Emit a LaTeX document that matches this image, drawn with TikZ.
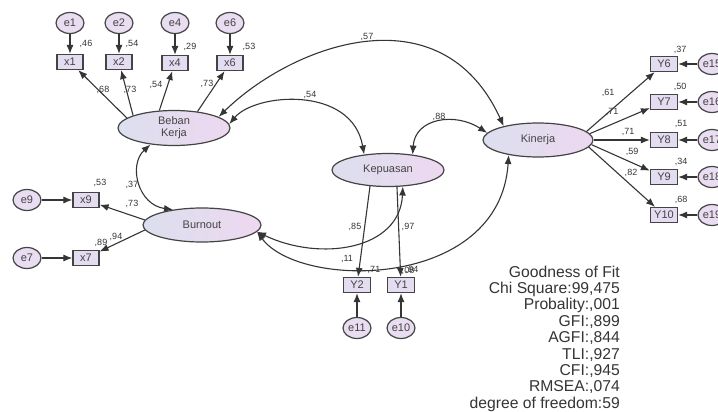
\documentclass[tikz,border=0pt]{standalone}
\usepackage{fontspec}
\setmainfont{Liberation Sans}
\usetikzlibrary{shapes.geometric,arrows.meta}
\definecolor{ink}{HTML}{353535}
\definecolor{edge}{HTML}{444444}
\definecolor{latL}{HTML}{DCDFEE}
\definecolor{latR}{HTML}{EDD8F0}
\definecolor{boxf}{HTML}{E4DCF0}
\definecolor{errf}{HTML}{E9DDF1}
\definecolor{txt}{HTML}{444444}
\begin{document}
\begin{tikzpicture}[x=1pt,y=-1pt,
 lat/.style={ellipse, draw=edge, line width=1.2pt, left color=latL, right color=latR, inner sep=0pt, font=\fontsize{11}{12}\selectfont, text=txt, align=center},
 obs/.style={rectangle, draw=edge, line width=1.2pt, fill=boxf, minimum width=26pt, minimum height=15pt, inner sep=0pt, font=\fontsize{11}{12}\selectfont, text=txt},
 err/.style={ellipse, draw=edge, line width=1.2pt, fill=errf, minimum width=28pt, minimum height=21pt, inner sep=0pt, font=\fontsize{11}{12}\selectfont, text=txt},
 arr/.style={draw=ink, line width=1.1pt, -{Latex[length=9pt,width=7pt]}},
 cov/.style={draw=ink, line width=1.1pt, {Latex[length=9pt,width=7pt]}-{Latex[length=9pt,width=7pt]}},
 lbl/.style={font=\fontsize{9}{9}\selectfont, text=ink, inner sep=0pt},
 gof/.style={font=\fontsize{15.7}{16}\selectfont, text=ink, anchor=base east, inner sep=0pt}]
\useasboundingbox (0,0) rectangle (718,412);
\fill[white] (0,0) rectangle (718,412);
\clip (0,0) rectangle (718,412);

% latent variables
\node[lat, minimum width=112pt, minimum height=35pt] (bk) at (174,128) {Beban\\Kerja};
\node[lat, minimum width=118pt, minimum height=34pt] (bo) at (202,225) {Burnout};
\node[lat, minimum width=112pt, minimum height=33pt] (kp) at (388,170) {Kepuasan};
\node[lat, minimum width=110pt, minimum height=34pt] (kn) at (538,140) {Kinerja};

% Beban Kerja indicators
\node[obs] (x1) at (70,62) {x1};
\node[obs] (x2) at (119,62) {x2};
\node[obs] (x4) at (175,63) {x4};
\node[obs] (x6) at (230,63) {x6};
\node[err] (e1) at (70,23) {e1};
\node[err] (e2) at (119,23) {e2};
\node[err] (e4) at (175,23) {e4};
\node[err] (e6) at (230,23) {e6};

% Burnout indicators
\node[obs] (x9) at (86,200) {x9};
\node[obs] (x7) at (86,258) {x7};
\node[err] (e9) at (27,200) {e9};
\node[err] (e7) at (27,258) {e7};

% Kepuasan indicators
\node[obs, minimum width=27pt] (y2) at (357,285) {Y2};
\node[obs, minimum width=27pt] (y1) at (401,285) {Y1};
\node[err] (e11) at (357,328) {e11};
\node[err] (e10) at (401,328) {e10};

% Kinerja indicators
\node[obs, minimum width=27pt] (y6) at (664,64) {Y6};
\node[obs, minimum width=27pt] (y7) at (664,102) {Y7};
\node[obs, minimum width=27pt] (y8) at (664,140) {Y8};
\node[obs, minimum width=27pt] (y9) at (664,177) {Y9};
\node[obs, minimum width=27pt] (y10) at (664,215) {Y10};
\node[err] (e15) at (712,64) {e15};
\node[err] (e16) at (712,102) {e16};
\node[err] (e17) at (712,140) {e17};
\node[err] (e18) at (712,177) {e18};
\node[err] (e19) at (712,215) {e19};

% error arrows
\draw[arr] (e1) -- (x1);
\draw[arr] (e2) -- (x2);
\draw[arr] (e4) -- (x4);
\draw[arr] (e6) -- (x6);
\draw[arr] (e9) -- (x9);
\draw[arr] (e7) -- (x7);
\draw[arr] (e11) -- (y2);
\draw[arr] (e10) -- (y1);
\draw[arr] (e15) -- (y6);
\draw[arr] (e16) -- (y7);
\draw[arr] (e17) -- (y8);
\draw[arr] (e18) -- (y9);
\draw[arr] (e19) -- (y10);

% loadings
\draw[arr] (bk.168) -- (x1);
\draw[arr] (bk.163) -- (x2);
\draw[arr] (bk.130) -- (x4);
\draw[arr] (bk.35) -- (x6);
\draw[arr] (bo.175) -- (x9);
\draw[arr] (bo.185) -- (x7);
\draw[arr] (kp.222) -- (y2);
\draw[arr] (kp.298) -- (y1);
\draw[arr] (kn.10) -- (y6);
\draw[arr] (kn.7) -- (y7);
\draw[arr] (kn.0) -- (y8);
\draw[arr] (kn.-5) -- (y9);
\draw[arr] (kn.-8) -- (y10);

% curved connectors
\draw[cov] (bk.14) .. controls (292,45) and (441,-11) .. (kn.158);
\draw[cov] (bk.4) .. controls (255,93) and (352,85) .. (kp.147);
\draw[cov] (kp.32) .. controls (415,118) and (455,112) .. (kn.172);
\draw[cov] (bk.215) .. controls (128,165) and (138,205) .. (bo.152);
\draw[cov] (bo.-7) .. controls (320,262) and (400,250) .. (kp.312);
\draw[cov] (bo.-7) .. controls (300,290) and (500,290) .. (kn.207);

% labels
\node[lbl] (l1) at (86,44) {,46};
\node[lbl] (l2) at (132,44) {,54};
\node[lbl] (l3) at (190,47) {,29};
\node[lbl] (l4) at (249,47) {,53};
\node[lbl] (l5) at (103,90) {,68};
\node[lbl] (l6) at (130,90) {,73};
\node[lbl] (l7) at (156,85) {,54};
\node[lbl] (l8) at (207,84) {,73};
\node[lbl] (l9) at (367,37) {,57};
\node[lbl] (l10) at (310,95) {,54};
\node[lbl] (l11) at (439,117) {,88};
\node[lbl] (l12) at (132,185) {,37};
\node[lbl] (l13) at (100,183) {,53};
\node[lbl] (l14) at (132,204) {,73};
\node[lbl] (l15) at (101,243) {,89};
\node[lbl] (l16) at (116,237) {,94};
\node[lbl] (l17) at (355,227) {,85};
\node[lbl] (l18) at (408,227) {,97};
\node[lbl] (l19) at (347,259) {,11};
\node[lbl] (l20) at (374,270) {,71};
\node[lbl] (l21) at (408,271) {,08};
\node[lbl] (l22) at (412,270) {,94};
\node[lbl] (l23) at (608,93) {,61};
\node[lbl] (l24) at (612,112) {,71};
\node[lbl] (l25) at (628,132) {,71};
\node[lbl] (l26) at (632,152) {,59};
\node[lbl] (l27) at (631,173) {,82};
\node[lbl] (l28) at (680,50) {,37};
\node[lbl] (l29) at (680,87) {,50};
\node[lbl] (l30) at (681,124) {,51};
\node[lbl] (l31) at (681,162) {,34};
\node[lbl] (l32) at (681,200) {,68};

% goodness of fit
\node[gof] (g1) at (620,277) {Goodness of Fit};
\node[gof] (g2) at (620,293.4) {Chi Square:99,475};
\node[gof] (g3) at (620,309.8) {Probality:,001};
\node[gof] (g4) at (620,326.2) {GFI:,899};
\node[gof] (g5) at (620,342.6) {AGFI:,844};
\node[gof] (g6) at (620,359) {TLI:,927};
\node[gof] (g7) at (620,375.4) {CFI:,945};
\node[gof] (g8) at (620,391.8) {RMSEA:,074};
\node[gof] (g9) at (620,408.2) {degree of freedom:59};
\end{tikzpicture}
\end{document}
